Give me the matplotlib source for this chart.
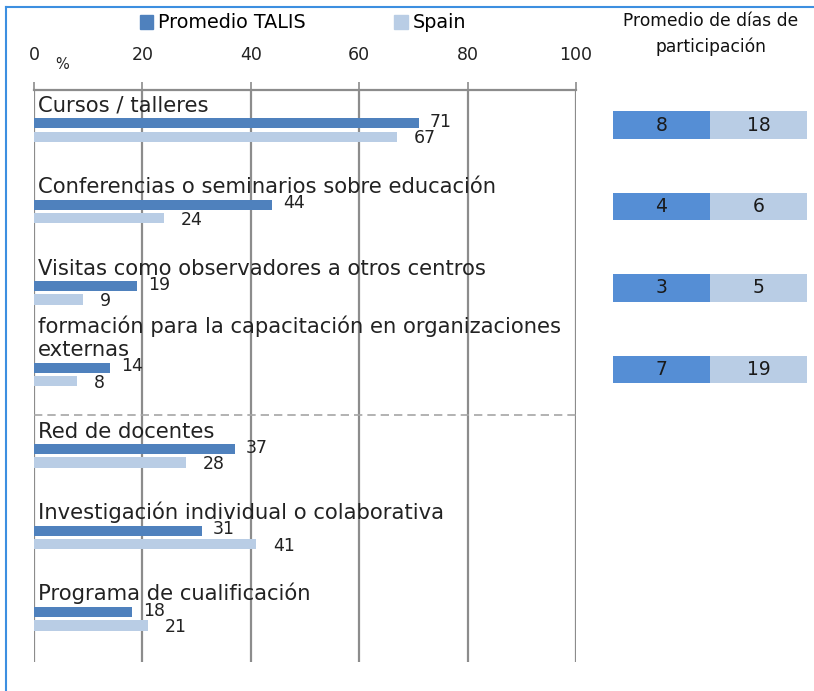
import matplotlib.pyplot as plt
from matplotlib.lines import Line2D
from matplotlib.patches import Patch

categories = ["Cursos / talleres",
              "Conferencias o seminarios sobre educación",
              "Visitas como observadores a otros centros",
              "formación para la capacitación en organizaciones\nexternas",
              "Red de docentes",
              "Investigación individual o colaborativa",
              "Programa de cualificación"]
talis = [71, 44, 19, 14, 37, 31, 18]
spain = [67, 24, 9, 8, 28, 41, 21]
days_talis = [8, 4, 3, 7]
days_spain = [18, 6, 5, 19]
ticks = [0, 20, 40, 60, 80, 100]

c_talis = "#4F81BD"
c_spain = "#B9CDE5"
c_box_dark = "#558ED5"
grid_c = "#8C8C8C"
txt = "#222222"

plt.rcParams["font.family"] = "DejaVu Sans"

fig = plt.figure(figsize=(8.14, 6.91), dpi=100)
W, H = 814, 691

# main axes: x 34..576 px, y 90..662 px
ax = fig.add_axes([34 / W, (H - 662) / H, 542 / W, 572 / H])
ypos = list(range(len(categories)))
off = 0.082
bh = 0.125
ax.barh([y - off for y in ypos], talis, height=bh, color=c_talis)
ax.barh([y + off for y in ypos], spain, height=bh, color=c_spain)
ax.set_xlim(0, 100)
ax.set_ylim(6.53, -0.49)

for v in ticks:
    ax.axvline(v, color=grid_c, lw=1.6, zorder=0)
ax.axhline(-0.49, color=grid_c, lw=1.6, clip_on=False)
ax.axhline(3.5, color="#A6A6A6", lw=1.2, ls=(0, (5, 3)))

for y, lab in zip(ypos, categories):
    ax.text(0.7, y - 0.225, lab, fontsize=15.2, color=txt, va="baseline",
            ha="left", linespacing=1.2)
for y, a, b in zip(ypos, talis, spain):
    ax.annotate(str(a), (a, y - off - 0.02), xytext=(8, 0), textcoords="offset points",
                va="center", ha="left", fontsize=12.5, color=txt)
    ax.annotate(str(b), (b, y + off + 0.02), xytext=(12, 0), textcoords="offset points",
                va="center", ha="left", fontsize=12.5, color=txt)

ax.xaxis.tick_top()
ax.set_xticks(ticks)
ax.set_xticklabels([str(t) for t in ticks], fontsize=12.5, color=txt)
ax.tick_params(axis="x", length=6, width=1.2, color=grid_c, pad=13)
ax.set_yticks([])
for s in ax.spines.values():
    s.set_visible(False)
ax.text(5.2, -0.8, "%", fontsize=10.5, color=txt, ha="center", va="center")

handles = [Patch(color=c_talis), Patch(color=c_spain)]
fig.legend(handles, ["Promedio TALIS", "Spain"], loc="center", ncol=2,
           bbox_to_anchor=(303 / W, 1 - 23 / H), frameon=False, fontsize=13.8,
           handlelength=0.7, handleheight=0.7, handletextpad=0.25,
           columnspacing=4.6, borderpad=0)

# right panel with days of participation
ax2 = fig.add_axes([613 / W, (H - 662) / H, 194 / W, 572 / H], sharey=ax)
dy = [i - 0.06 for i in range(len(days_talis))]
ax2.barh(dy, [1] * len(dy), left=0, height=0.335, color=c_box_dark)
ax2.barh(dy, [1] * len(dy), left=1, height=0.335, color=c_spain)
for y, a, b in zip(dy, days_talis, days_spain):
    ax2.text(0.5, y, str(a), ha="center", va="center", fontsize=13.5, color="#1a1a1a")
    ax2.text(1.5, y, str(b), ha="center", va="center", fontsize=13.5, color="#1a1a1a")
ax2.set_xlim(0, 2)
ax2.axis("off")
fig.text(711 / W, 1 - 34 / H, "Promedio de días de\nparticipación", ha="center",
         va="center", fontsize=12.3, color="#111111", linespacing=1.45)

# thin blue frame on left and top
fig.add_artist(Line2D([6 / W, 6 / W], [0, 1 - 7 / H], color="#3D8FE0", lw=1.5))
fig.add_artist(Line2D([6 / W, 1], [1 - 7 / H, 1 - 7 / H], color="#3D8FE0", lw=1.5))

fig.savefig("out.png", dpi=100)
